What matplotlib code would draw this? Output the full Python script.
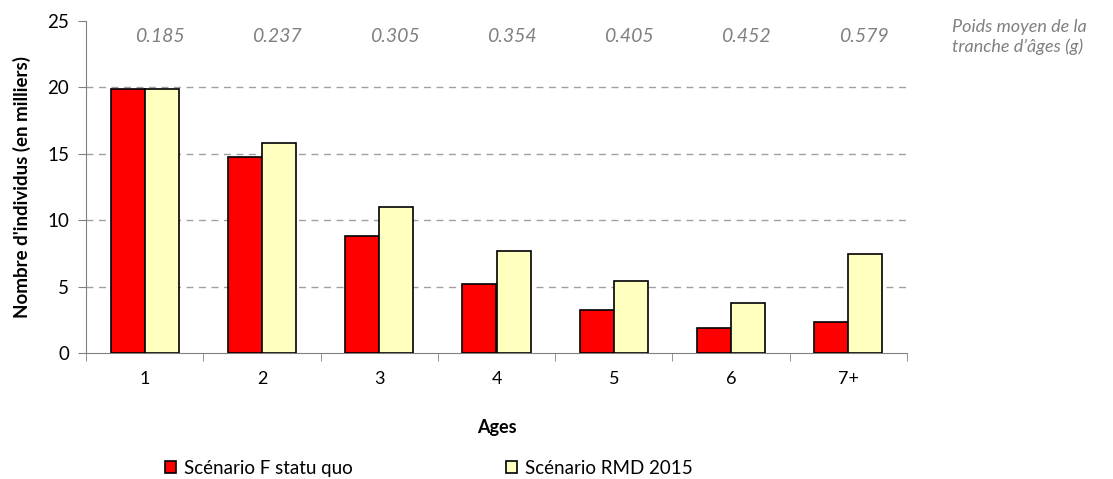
import matplotlib
matplotlib.use("Agg")
import matplotlib.pyplot as plt
import numpy as np

ages = ["1", "2", "3", "4", "5", "6", "7+"]
statu_quo = [19.9, 14.75, 8.8, 5.2, 3.25, 1.9, 2.35]
rmd_2015 = [19.9, 15.85, 11.0, 7.7, 5.45, 3.75, 7.45]
poids = ["0.185", "0.237", "0.305", "0.354", "0.405", "0.452", "0.579"]
yticks = [0, 5, 10, 15, 20, 25]

plt.rcParams['font.family'] = ['Lato', 'DejaVu Sans']

fig = plt.figure(figsize=(11.13, 4.79), dpi=100)
ax = fig.add_axes([86/1113, 1-353/479, (907-86)/1113, (353-21)/479])

x = np.arange(len(ages))
w = 0.29
ax.bar(x - w/2, statu_quo, w, color="#FF0000", edgecolor="black", linewidth=1.2,
       label="Scénario F statu quo", zorder=3)
ax.bar(x + w/2, rmd_2015, w, color="#FFFFC0", edgecolor="black", linewidth=1.2,
       label="Scénario RMD 2015", zorder=3)

ax.set_xlim(-0.5, len(ages) - 0.5)
ax.set_ylim(0, 25)
ax.set_yticks(yticks)
ax.set_yticklabels([str(v) for v in yticks], fontsize=13.5)
for v in yticks[1:-1]:
    ax.axhline(v, color="#A0A0A0", linestyle=(0, (5, 4)), linewidth=1, zorder=1)

ax.set_xticks(x)
ax.set_xticklabels(ages, fontsize=13)
ax.tick_params(axis='x', which='major', length=0, pad=13)
ax.set_xticks(np.arange(-0.5, len(ages)), minor=True)
ax.tick_params(axis='x', which='minor', length=6, color="#808080", direction='out')
ax.tick_params(axis='y', length=6, color="#808080", direction='out', pad=6)

for s in ["top", "right"]:
    ax.spines[s].set_visible(False)
for s in ["left", "bottom"]:
    ax.spines[s].set_color("#808080")

ax.set_ylabel("Nombre d'individus (en milliers)", fontsize=13.5, fontweight="bold", labelpad=12)
ax.set_xlabel("Ages", fontsize=13, fontweight="bold", labelpad=23)

for i, p in enumerate(poids):
    ax.text(i + 0.13, 23.8, p, ha="center", va="center", fontsize=14,
            style="italic", color="#808080")

fig.text(952/1113, 1-37/479, "Poids moyen de la\ntranche d\u2019âges (g)", ha="left", va="center",
         fontsize=13, style="italic", color="#808080", linespacing=1.25)

fig.legend(loc="lower left", bbox_to_anchor=(148/1113, -0.031), ncol=2, frameon=False,
           fontsize=13.5, handlelength=0.6, handleheight=0.6, columnspacing=8.2, handletextpad=0.4)

fig.savefig("out.png", dpi=100)
